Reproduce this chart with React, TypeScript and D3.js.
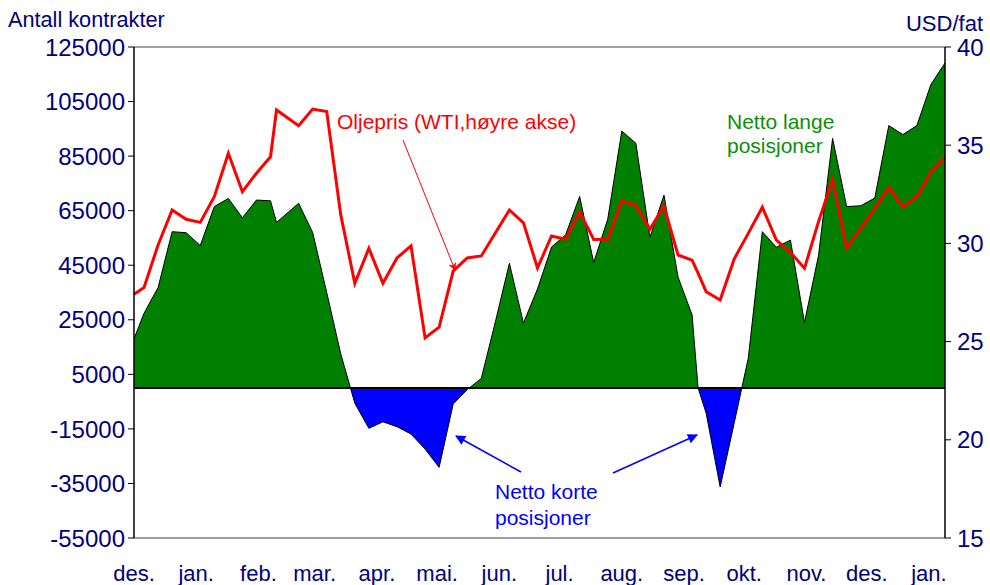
import React from 'react';
import * as d3 from 'd3';

const dates = ['2002-12-01','2002-12-06','2002-12-13','2002-12-20','2002-12-27','2003-01-03','2003-01-10','2003-01-17','2003-01-24','2003-01-31','2003-02-07','2003-02-10','2003-02-21','2003-02-28','2003-03-07','2003-03-14','2003-03-21','2003-03-28','2003-04-04','2003-04-11','2003-04-18','2003-04-25','2003-05-02','2003-05-09','2003-05-16','2003-05-23','2003-05-30','2003-06-06','2003-06-13','2003-06-20','2003-06-27','2003-07-04','2003-07-11','2003-07-18','2003-07-25','2003-08-01','2003-08-08','2003-08-15','2003-08-22','2003-08-29','2003-09-05','2003-09-08','2003-09-12','2003-09-19','2003-09-26','2003-10-03','2003-10-10','2003-10-17','2003-10-24','2003-10-31','2003-11-07','2003-11-14','2003-11-21','2003-11-28','2003-12-05','2003-12-12','2003-12-19','2003-12-26','2004-01-02','2004-01-09'];

const netPositions = [18000,27400,36800,57300,56900,52200,66500,69500,62400,68900,
  68600,60700,67700,57000,35000,12500,-5600,-14800,-12400,-14200,
  -16900,-22400,-29100,-5900,-600,3500,24200,45700,23800,36300,
  51700,56100,70200,46000,61900,94200,89700,55200,70700,40700,
  26800,0,-9200,-36300,-12800,10900,57300,51600,54200,24000,
  48600,91500,66500,66800,69600,96200,92900,96200,111300,119100];

const oilPrice = [27.41,27.75,29.92,31.70,31.23,31.07,32.38,34.59,32.63,33.57,
  34.41,36.79,35.99,36.84,36.71,31.45,27.97,29.75,27.97,29.26,
  29.87,25.19,25.74,28.59,29.26,29.36,30.53,31.70,31.05,28.75,
  30.38,30.21,31.61,30.20,30.21,32.17,31.93,30.72,31.90,29.41,
  29.15,28.49,27.54,27.12,29.21,30.51,31.84,30.17,29.54,28.73,
  31.11,33.24,29.75,30.77,31.77,32.85,31.87,32.38,33.65,34.37];

const monthLabels = ['des.','jan.','feb.','mar.','apr.','mai.','jun.','jul.','aug.','sep.','okt.','nov.','des.','jan.'];
const leftTicks = [125000,105000,85000,65000,45000,25000,5000,-15000,-35000,-55000];
const rightTicks = [40,35,30,25,20,15];

const W = 990, H = 585;
const L = 134, R = 945, T = 47, B = 538;
const FONT = '"Liberation Sans", Arial, sans-serif';
const NAVY = '#000080';

export default function App() {
  const parse = d3.timeParse('%Y-%m-%d');
  const pts = dates.map((d, i) => ({ date: parse(d) as Date, net: netPositions[i], oil: oilPrice[i] }));
  const start = parse('2002-12-01') as Date;
  const end = parse('2004-01-09') as Date;
  const x = d3.scaleTime().domain([start, end]).range([L, R]);
  const yL = d3.scaleLinear().domain([-55000, 125000]).range([B, T]);
  const yR = d3.scaleLinear().domain([15, 40]).range([B, T]);
  const y0 = yL(0);
  const monthTicks = monthLabels.map((_, i) => d3.timeMonth.offset(start, i));

  const area = d3.area<any>().x(d => x(d.date)).y0(y0).y1(d => yL(d.net))(pts) as string;
  const netLine = d3.line<any>().x(d => x(d.date)).y(d => yL(d.net))(pts) as string;
  const oilLine = d3.line<any>().x(d => x(d.date)).y(d => yR(d.oil))(pts) as string;

  return (
    <svg width={W} height={H} style={{ position: 'absolute', left: 0, top: 0, background: '#fff' }} fontFamily={FONT}>
      <defs>
        <clipPath id="pos"><rect x={L} y={T} width={R - L} height={y0 - T} /></clipPath>
        <clipPath id="neg"><rect x={L} y={y0} width={R - L} height={B - y0} /></clipPath>
        <marker id="arrRed" viewBox="0 0 10 10" refX="9" refY="5" markerWidth="8" markerHeight="8" orient="auto" markerUnits="userSpaceOnUse">
          <path d="M0,0 L10,5 L0,10 L3,5 z" fill="#ff0000" />
        </marker>
        <marker id="arrBlue" viewBox="0 0 10 10" refX="9" refY="5" markerWidth="12" markerHeight="10" orient="auto" markerUnits="userSpaceOnUse">
          <path d="M0,0 L10,5 L0,10 z" fill="#0000ff" />
        </marker>
      </defs>

      {/* plot border (top/bottom) */}
      <line x1={L} x2={R} y1={T} y2={T} stroke="#808080" strokeWidth={1.5} />
      <line x1={L} x2={R} y1={B} y2={B} stroke="#808080" strokeWidth={1.5} />

      {/* areas */}
      <path d={area} fill="#008000" clipPath="url(#pos)" />
      <path d={area} fill="#0000ff" clipPath="url(#neg)" />
      <path d={netLine} fill="none" stroke="#000" strokeWidth={1} />
      <line x1={L} x2={R} y1={y0} y2={y0} stroke="#000" strokeWidth={2} />

      {/* oil price */}
      <path d={oilLine} fill="none" stroke="#ff0000" strokeWidth={3} strokeLinejoin="miter" />

      {/* axes */}
      <line x1={L} x2={L} y1={T} y2={B} stroke="#000" strokeWidth={1.5} />
      <line x1={R} x2={R} y1={T} y2={B} stroke="#000" strokeWidth={1.5} />
      {leftTicks.map(t => (
        <g key={'l' + t}>
          <line x1={L - 6} x2={L} y1={yL(t)} y2={yL(t)} stroke="#000" strokeWidth={1} />
          <text x={L - 9} y={yL(t)} dy="0.36em" textAnchor="end" fontSize={24} fill={NAVY}>{t}</text>
        </g>
      ))}
      {rightTicks.map(t => (
        <g key={'r' + t}>
          <line x1={R} x2={R + 6} y1={yR(t)} y2={yR(t)} stroke="#000" strokeWidth={1} />
          <text x={R + 12} y={yR(t)} dy="0.36em" textAnchor="start" fontSize={24} fill={NAVY}>{t}</text>
        </g>
      ))}
      {monthTicks.map((m, i) => (
        <text key={'m' + i} x={x(m)} y={581} textAnchor="middle" fontSize={22} fill={NAVY}>{monthLabels[i]}</text>
      ))}

      <text x={8} y={27} fontSize={21.7} fill={NAVY}>Antall kontrakter</text>
      <text x={983} y={31} textAnchor="end" fontSize={22} fill={NAVY}>USD/fat</text>

      {/* annotations */}
      <text x={337} y={129} fontSize={21} fill="#ff0000">Oljepris (WTI,høyre akse)</text>
      <line x1={403} y1={140} x2={455} y2={270} stroke="#ff0000" strokeWidth={1} markerEnd="url(#arrRed)" />

      <text x={727} y={129} fontSize={21} fill="#0a8f0a">Netto lange</text>
      <text x={727} y={153} fontSize={21} fill="#0a8f0a">posisjoner</text>

      <text x={495} y={499} fontSize={21} fill="#0000ff">Netto korte</text>
      <text x={495} y={525} fontSize={21} fill="#0000ff">posisjoner</text>
      <line x1={521} y1={472} x2={456} y2={436} stroke="#0000ff" strokeWidth={1.5} markerEnd="url(#arrBlue)" />
      <line x1={613} y1={473} x2={697} y2={435} stroke="#0000ff" strokeWidth={1.5} markerEnd="url(#arrBlue)" />
    </svg>
  );
}
